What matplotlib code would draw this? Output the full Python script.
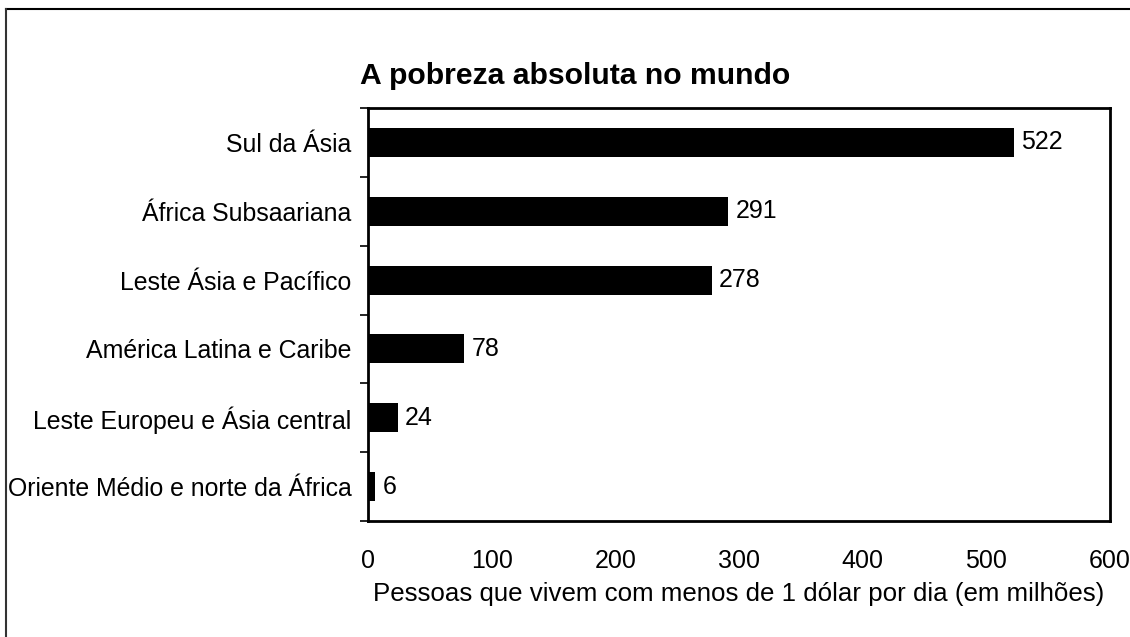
import matplotlib
matplotlib.use("Agg")
import matplotlib.pyplot as plt
from matplotlib.lines import Line2D

regions = ["Sul da Ásia", "África Subsaariana", "Leste Ásia e Pacífico",
           "América Latina e Caribe", "Leste Europeu e Ásia central",
           "Oriente Médio e norte da África"]
values = [522, 291, 278, 78, 24, 6]
xticks = [0, 100, 200, 300, 400, 500, 600]

plt.rcParams["font.family"] = ["Liberation Sans", "DejaVu Sans"]

fig = plt.figure(figsize=(11.3, 6.37), dpi=100)
ax = fig.add_axes([368 / 1130, 1 - 521 / 637, (1110 - 368) / 1130, (521 - 108) / 637])

n = len(regions)
pos = list(range(n))[::-1]
ax.barh(pos, values, height=0.42, color="black")
for p, v in zip(pos, values):
    ax.text(v + 6, p, str(v), va="center", ha="left", fontsize=18)

ax.set_xlim(0, 600)
ax.set_ylim(-0.5, n - 0.5)
ax.set_xticks(xticks)
ax.set_xticklabels([str(t) for t in xticks], fontsize=18)
ax.tick_params(axis="x", length=0, pad=20)
ax.set_yticks(pos)
ax.set_yticklabels(regions, fontsize=17.9)
ax.tick_params(axis="y", which="major", length=0, pad=12)
ax.set_yticks([i - 0.5 for i in range(n + 1)], minor=True)
ax.tick_params(axis="y", which="minor", length=6, width=1.2, direction="out")
for s in ax.spines.values():
    s.set_linewidth(2)
ax.set_xlabel("Pessoas que vivem com menos de 1 dólar por dia (em milhões)", fontsize=18.6, labelpad=7)

fig.text(360 / 1130, 1 - 76 / 637, "A pobreza absoluta no mundo", fontsize=21.7,
         fontweight="bold", va="center", ha="left")

# recorte da moldura da figura (topo e esquerda)
fig.add_artist(Line2D([6 / 1130, 1], [1 - 9 / 637, 1 - 9 / 637], transform=fig.transFigure, color="black", lw=1.5))
fig.add_artist(Line2D([6 / 1130, 6 / 1130], [0, 1 - 9 / 637], transform=fig.transFigure, color="#333333", lw=1.5))

fig.savefig("out.png", dpi=100)
